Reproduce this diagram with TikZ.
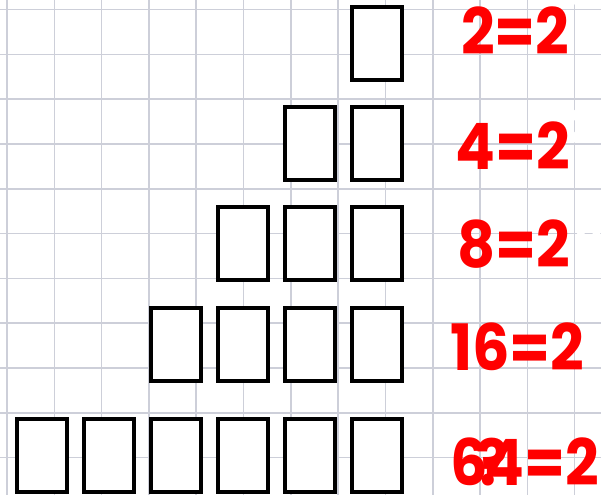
\documentclass[tikz,border=0pt]{standalone}
\usepackage{fontspec}
\newfontfamily\lab{Poppins}
\definecolor{gridc}{RGB}{205,207,217}
\definecolor{labred}{RGB}{255,0,0}
\newcommand{\sq}[1]{\scalebox{0.92}[1]{#1}}
\tikzset{
  cell/.style={draw=black, line width=4pt, fill=white, minimum width=50pt, minimum height=73pt, inner sep=0pt, rectangle},
  eq/.style={text=labred, font=\lab\bfseries\fontsize{64}{64}\selectfont, inner sep=0pt, anchor=base west},
  sup/.style={text=white, font=\lab\bfseries\fontsize{46}{46}\selectfont, inner sep=0pt, anchor=base west}
}
\begin{document}
\begin{tikzpicture}[x=1pt,y=-1pt]
\useasboundingbox (0,0) rectangle (601,495);
\fill[white] (0,0) rectangle (601,495);
\begin{scope}
\clip (0,0) rectangle (601,495);
\foreach \k in {0,...,12} \draw[gridc, line width=1.6pt] ({7+47.3*\k},0) -- ({7+47.3*\k},495);
\foreach \k in {0,...,10} \draw[gridc, line width=1.6pt] (0,{9.5+44.8*\k}) -- (601,{9.5+44.8*\k});
% white superscripts
\node[sup] (s1) at (572,6) {2};
\node[sup] (s2) at (567,143) {2};
\node[sup] (s3) at (575,243) {3};
\end{scope}
% boxes
\node[cell] (r1c6) at (377,43.5) {};
\node[cell] (r2c5) at (310,143.5) {};
\node[cell] (r2c6) at (377,143.5) {};
\node[cell] (r3c4) at (243,243.5) {};
\node[cell] (r3c5) at (310,243.5) {};
\node[cell] (r3c6) at (377,243.5) {};
\node[cell] (r4c3) at (176,344.5) {};
\node[cell] (r4c4) at (243,344.5) {};
\node[cell] (r4c5) at (310,344.5) {};
\node[cell] (r4c6) at (377,344.5) {};
\node[cell] (r5c1) at (42,455.5) {};
\node[cell] (r5c2) at (109,455.5) {};
\node[cell] (r5c3) at (176,455.5) {};
\node[cell] (r5c4) at (243,455.5) {};
\node[cell] (r5c5) at (310,455.5) {};
\node[cell] (r5c6) at (377,455.5) {};
% labels
\node[eq] (e1) at (461,55) {\sq{2=2}};
\node[eq] (e2) at (455,169) {\sq{4=2}};
\node[eq] (e3) at (457,267) {\sq{8=2}};
\node[eq] (e4) at (450,370) {\sq{16=2}};
\node[eq] (e5a) at (450,485) {\sq{6}};
\node[eq] (e5b) at (476,485) {\sq{?}};
\node[eq] (e5c) at (484,485) {\sq{4=2}};
\end{tikzpicture}
\end{document}
